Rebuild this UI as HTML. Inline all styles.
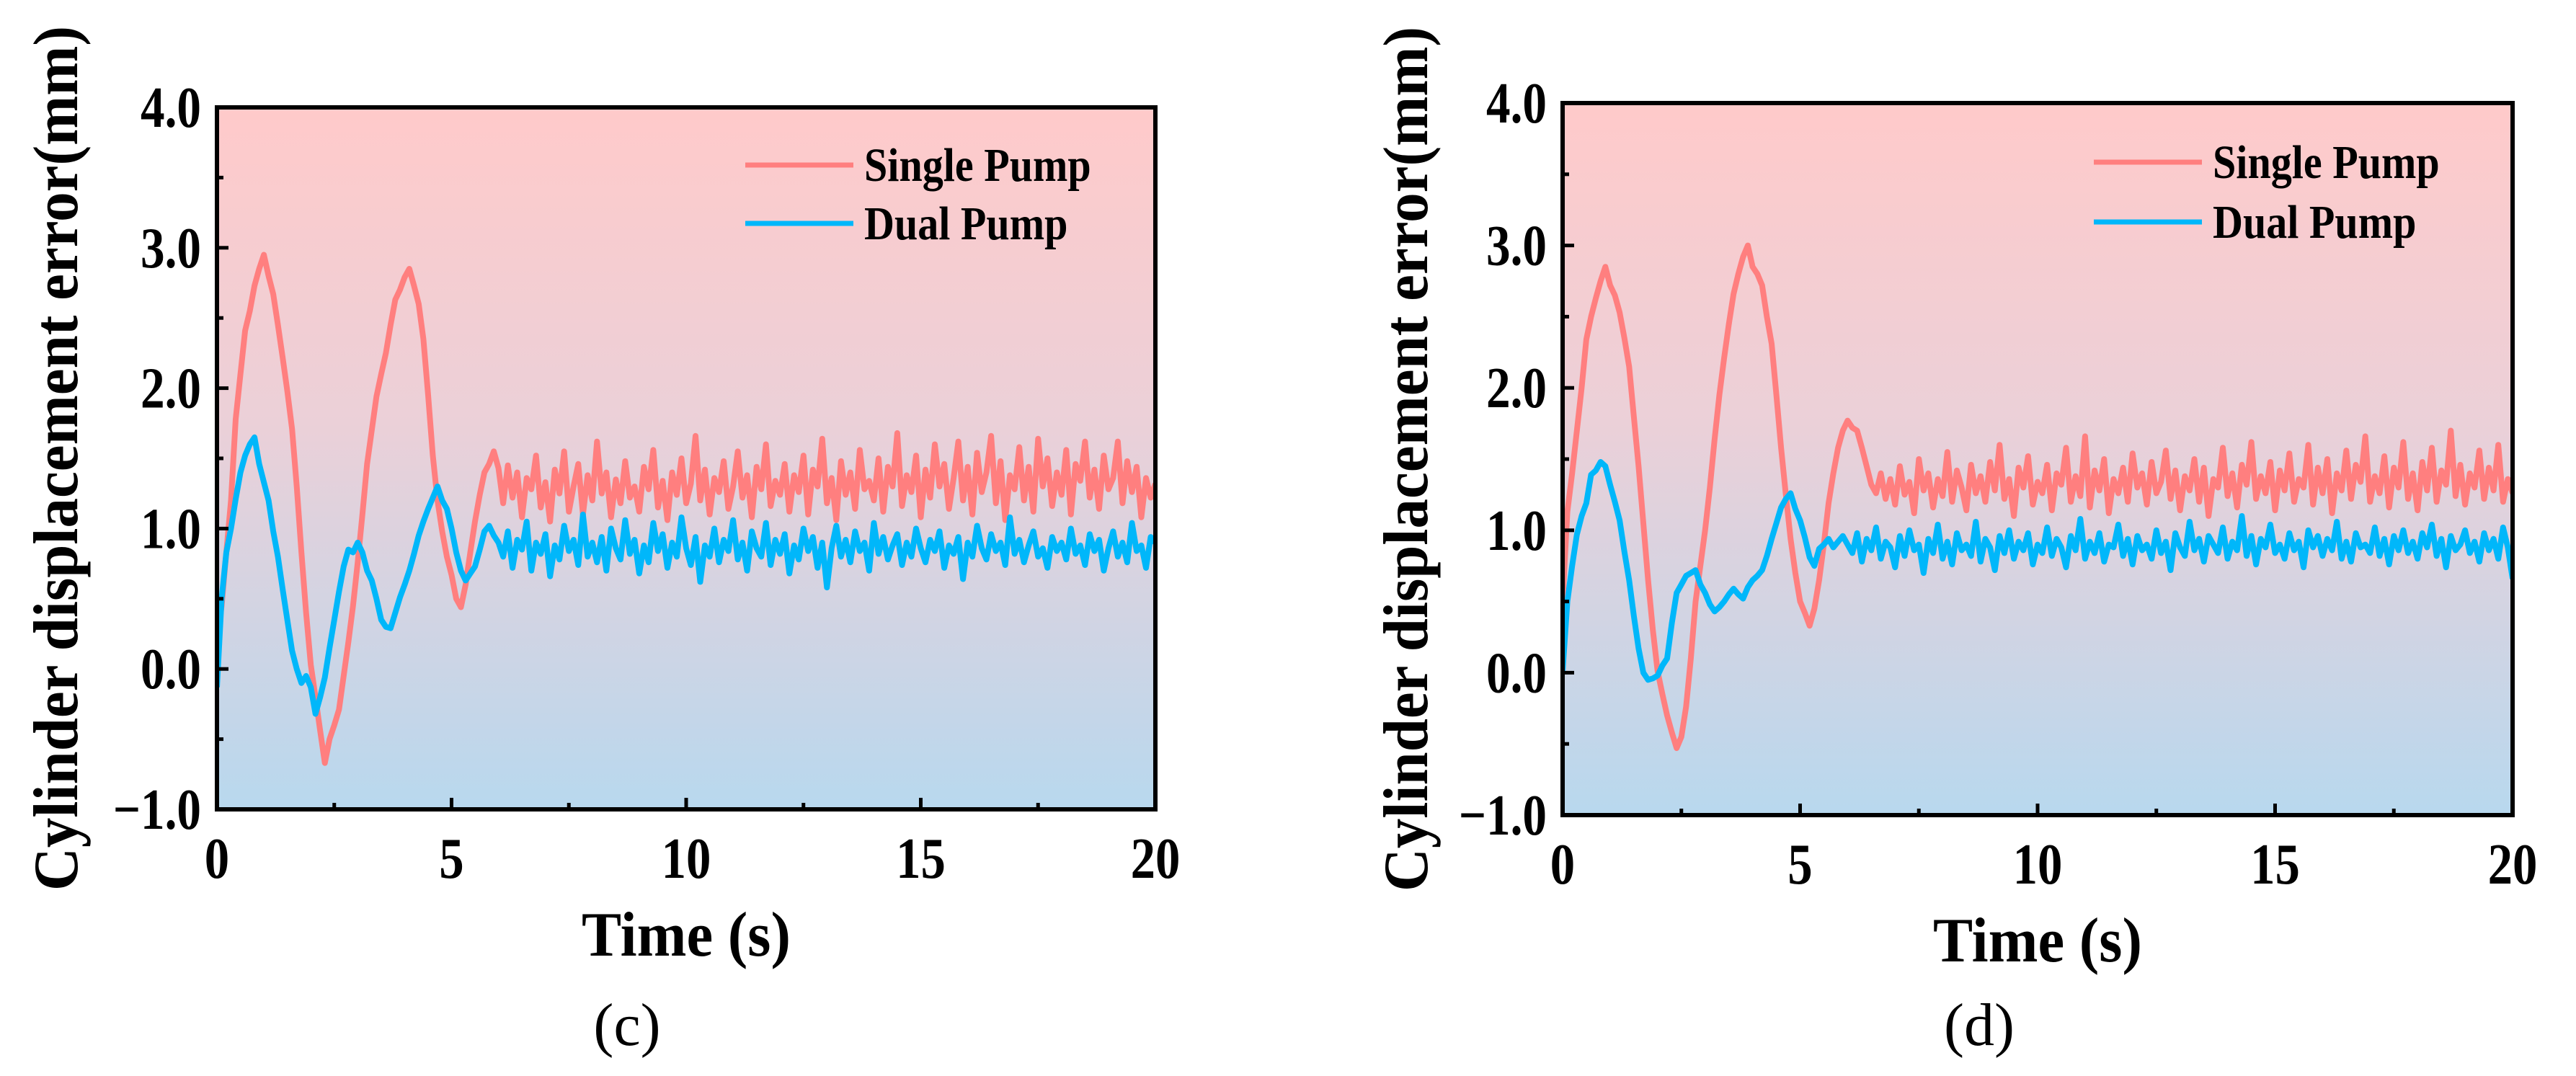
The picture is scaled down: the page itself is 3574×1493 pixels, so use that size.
<!DOCTYPE html>
<html>
<head>
<meta charset="utf-8">
<style>
html,body{margin:0;padding:0;background:#fff;}
svg{display:block;}
text{font-family:"Liberation Serif","Times New Roman",serif;}
</style>
</head>
<body>
<svg id="fig" width="3574" height="1493" viewBox="0 0 3574 1493" xmlns="http://www.w3.org/2000/svg">
<defs>
<linearGradient id="bg" x1="0" y1="0" x2="0" y2="1">
<stop offset="0" stop-color="#FFCACA"/>
<stop offset="0.45" stop-color="#EBD0D8"/>
<stop offset="1" stop-color="#B8D8EE"/>
</linearGradient>
</defs>
</svg>
<script>
// ---- data (time step 0.1 s, t = 0..20) ----
const xTicks = [0, 5, 10, 15, 20];
const yTicks = [-1.0, 0.0, 1.0, 2.0, 3.0, 4.0];
const yTickLabels = ["\u22121.0", "0.0", "1.0", "2.0", "3.0", "4.0"];
const seriesNames = ["Single Pump", "Dual Pump"];
const timeStep = 0.1;

const singleC = [0.19,0.45,0.83,1.2,1.78,2.1,2.41,2.55,2.73,2.85,2.95,
2.8,2.67,2.45,2.22,1.98,1.71,1.3,0.83,0.4,0.03,
-0.2,-0.44,-0.67,-0.5,-0.4,-0.29,-0.05,0.19,0.45,0.76,
1.1,1.46,1.7,1.94,2.1,2.25,2.45,2.63,2.7,2.79,
2.85,2.73,2.6,2.35,1.95,1.52,1.2,0.98,0.8,0.67,
0.5,0.44,0.6,0.83,1.05,1.24,1.4,1.46,1.55,1.43,
1.18,1.45,1.22,1.40,1.08,1.36,1.28,1.52,1.15,1.33,
1.05,1.42,1.25,1.55,1.12,1.30,1.46,1.10,1.38,1.20,
1.62,1.25,1.40,1.08,1.35,1.18,1.48,1.22,1.30,1.12,
1.44,1.28,1.56,1.15,1.34,1.06,1.40,1.24,1.50,1.18,
1.32,1.66,1.20,1.42,1.10,1.36,1.26,1.48,1.14,1.30,
1.55,1.22,1.38,1.08,1.44,1.28,1.60,1.16,1.34,1.24,
1.46,1.12,1.38,1.26,1.52,1.10,1.42,1.30,1.64,1.18,
1.36,1.06,1.48,1.24,1.40,1.14,1.56,1.28,1.34,1.20,
1.50,1.12,1.44,1.30,1.68,1.16,1.38,1.26,1.52,1.08,
1.42,1.22,1.60,1.30,1.46,1.14,1.36,1.62,1.20,1.44,
1.10,1.54,1.26,1.40,1.66,1.18,1.48,1.06,1.38,1.28,
1.58,1.20,1.44,1.12,1.64,1.30,1.50,1.16,1.40,1.24,
1.56,1.10,1.46,1.34,1.62,1.22,1.42,1.14,1.52,1.28,
1.36,1.62,1.18,1.48,1.26,1.44,1.08,1.36,1.22,1.32];

const dualC = [-0.13,0.5,0.83,1.0,1.21,1.4,1.52,1.6,1.65,1.46,1.33,
1.2,0.98,0.8,0.57,0.35,0.13,0.0,-0.1,-0.05,-0.13,
-0.32,-0.2,-0.06,0.15,0.35,0.55,0.73,0.85,0.83,0.9,
0.83,0.7,0.63,0.5,0.35,0.3,0.29,0.4,0.51,0.6,
0.7,0.82,0.95,1.05,1.14,1.22,1.3,1.2,1.14,1.0,
0.83,0.7,0.63,0.68,0.73,0.85,0.98,1.02,0.95,0.9,
0.80,0.98,0.72,0.92,0.85,1.05,0.70,0.90,0.82,0.96,
0.66,0.88,0.78,1.02,0.84,0.92,0.74,1.10,0.80,0.90,
0.76,0.94,0.70,1.00,0.86,0.78,1.06,0.82,0.92,0.68,
0.88,0.76,1.04,0.84,0.96,0.72,0.90,0.80,1.08,0.86,
0.74,0.94,0.62,0.88,0.80,1.00,0.76,0.92,0.84,1.06,
0.78,0.90,0.70,0.98,0.86,0.80,1.04,0.74,0.92,0.82,
0.96,0.68,0.88,0.78,1.00,0.84,0.94,0.72,0.90,0.58,
0.86,1.02,0.80,0.92,0.76,0.98,0.84,0.90,0.70,1.04,
0.82,0.94,0.78,0.88,0.96,0.74,0.90,0.80,1.00,0.86,
0.76,0.92,0.84,0.98,0.72,0.88,0.82,0.94,0.64,0.90,
0.80,1.02,0.86,0.78,0.96,0.84,0.90,0.74,1.08,0.82,
0.92,0.76,0.88,0.98,0.80,0.86,0.72,0.94,0.84,0.90,
0.78,1.00,0.82,0.88,0.74,0.96,0.84,0.92,0.70,0.86,
0.98,0.80,0.90,0.76,1.04,0.84,0.88,0.72,0.94,0.90];

const singleD = [0.5,1.13,1.4,1.7,2.0,2.34,2.5,2.63,2.75,2.85,2.72,
2.65,2.53,2.35,2.15,1.8,1.45,1.05,0.65,0.3,0.01,
-0.15,-0.3,-0.42,-0.53,-0.45,-0.24,0.1,0.5,0.75,1.0,
1.3,1.64,1.95,2.21,2.45,2.66,2.8,2.92,3.0,2.85,
2.8,2.72,2.5,2.31,1.95,1.58,1.25,0.94,0.7,0.5,
0.42,0.33,0.45,0.65,0.9,1.19,1.4,1.58,1.7,1.77,
1.72,1.70,1.58,1.45,1.32,1.26,1.40,1.22,1.36,1.18,
1.45,1.25,1.34,1.12,1.50,1.28,1.40,1.16,1.36,1.24,
1.55,1.20,1.42,1.30,1.14,1.46,1.26,1.38,1.20,1.48,
1.28,1.60,1.22,1.36,1.10,1.44,1.30,1.52,1.18,1.34,
1.26,1.46,1.14,1.40,1.32,1.58,1.20,1.38,1.24,1.66,
1.16,1.42,1.28,1.50,1.12,1.36,1.26,1.44,1.20,1.54,
1.30,1.40,1.18,1.48,1.26,1.34,1.56,1.22,1.42,1.14,
1.38,1.28,1.50,1.20,1.44,1.10,1.36,1.30,1.58,1.24,
1.40,1.16,1.46,1.32,1.62,1.22,1.38,1.26,1.48,1.14,
1.42,1.28,1.54,1.20,1.36,1.30,1.60,1.18,1.44,1.26,
1.50,1.12,1.40,1.28,1.56,1.22,1.46,1.34,1.66,1.20,
1.38,1.26,1.52,1.16,1.44,1.30,1.62,1.22,1.40,1.14,
1.48,1.28,1.58,1.20,1.42,1.32,1.70,1.24,1.46,1.18,
1.40,1.30,1.56,1.22,1.44,1.28,1.60,1.20,1.36,1.26];

const dualD = [0.01,0.5,0.75,0.97,1.1,1.19,1.39,1.42,1.48,1.45,1.32,
1.2,1.07,0.85,0.65,0.4,0.17,0.0,-0.05,-0.04,-0.02,
0.05,0.1,0.35,0.56,0.62,0.68,0.7,0.72,0.62,0.56,
0.48,0.43,0.46,0.5,0.55,0.59,0.55,0.52,0.6,0.65,
0.68,0.72,0.82,0.94,1.05,1.16,1.22,1.26,1.15,1.07,
0.95,0.81,0.75,0.87,0.9,0.94,0.88,0.92,0.96,0.9,
0.84,0.98,0.78,0.94,0.86,1.02,0.80,0.92,0.88,0.74,
0.96,0.82,1.00,0.86,0.90,0.70,0.94,0.84,1.04,0.80,
0.92,0.76,0.98,0.86,0.90,0.82,1.06,0.78,0.94,0.88,
0.72,0.96,0.84,1.00,0.80,0.92,0.86,0.98,0.76,0.90,
0.84,1.02,0.82,0.94,0.88,0.74,0.96,0.86,1.08,0.80,
0.92,0.84,0.98,0.78,0.90,0.88,1.04,0.82,0.94,0.76,
0.96,0.86,0.90,0.80,1.00,0.84,0.92,0.72,0.98,0.88,
0.82,1.06,0.86,0.94,0.78,0.96,0.90,0.84,1.02,0.80,
0.92,0.86,1.10,0.82,0.96,0.76,0.94,0.88,1.04,0.84,
0.90,0.80,0.98,0.86,0.92,0.74,1.00,0.88,0.96,0.82,
0.94,0.86,1.06,0.80,0.92,0.78,0.98,0.88,0.90,0.84,
1.02,0.82,0.94,0.76,0.96,0.86,1.00,0.84,0.92,0.80,
0.98,0.88,1.04,0.82,0.94,0.74,0.96,0.86,0.90,1.00,
0.84,0.92,0.78,0.98,0.86,0.94,0.80,1.02,0.88,0.66];

const NS = "http://www.w3.org/2000/svg";
const svg = document.getElementById("fig");
function mk(tag, attrs, parent) {
  const e = document.createElementNS(NS, tag);
  for (const k in attrs) e.setAttribute(k, attrs[k]);
  (parent || svg).appendChild(e);
  return e;
}
function squeeze(t, f) {
  const len = t.getComputedTextLength();
  t.setAttribute("textLength", (len * f).toFixed(1));
  t.setAttribute("lengthAdjust", "spacingAndGlyphs");
}

function drawPanel(cfg) {
  const g = mk("g", {});
  
  
  const L = cfg.L, R = cfg.R, T = cfg.T, B = cfg.B;
  const xs = v => L + (v - 0) / 20 * (R - L);
  const ys = v => B - (v + 1) / 5 * (B - T);

  const bg = mk("rect", {x: L, y: T, width: R - L, height: B - T, fill: "url(#bg)"}, g);
  
  

  const clipId = "clip-" + cfg.name;
  const cp = mk("clipPath", {id: clipId}, g);
  mk("rect", {x: L, y: T, width: R - L, height: B - T}, cp);

  const series = [[cfg.single, "#FF7F7F", "single-pump-line"], [cfg.dual, "#00B7FA", "dual-pump-line"]];
  series.forEach(s => {
    const pts = s[0].map((v, i) => xs(i * timeStep).toFixed(1) + "," + ys(v).toFixed(1)).join(" ");
    const pl = mk("polyline", {points: pts, fill: "none", stroke: s[1], "stroke-width": 8, "stroke-linejoin": "round", "clip-path": "url(#" + clipId + ")"}, g);
    
    
  });

  xTicks.forEach((v, i) => {
    const x = xs(v);
    const tk = mk("line", {x1: x, x2: x, y1: B, y2: B - 16, stroke: "#000", "stroke-width": 5}, g);
    
    
    if (i < xTicks.length - 1) {
      const xm = xs(v + 2.5);
      const mt = mk("line", {x1: xm, x2: xm, y1: B, y2: B - 9, stroke: "#000", "stroke-width": 5}, g);
      
      
    }
    const t = mk("text", {x: x, y: B + 95, "text-anchor": "middle", "font-size": 80, "font-weight": "bold"}, g);
    t.textContent = String(v);
    
    
    squeeze(t, 0.86);
  });
  yTicks.forEach((v, i) => {
    const y = ys(v);
    const tk = mk("line", {x1: L, x2: L + 16, y1: y, y2: y, stroke: "#000", "stroke-width": 5}, g);
    
    
    if (i < yTicks.length - 1) {
      const ym = ys(v + 0.5);
      const mt = mk("line", {x1: L, x2: L + 9, y1: ym, y2: ym, stroke: "#000", "stroke-width": 5}, g);
      
      
    }
    const t = mk("text", {x: L - 22, y: y + 27, "text-anchor": "end", "font-size": 80, "font-weight": "bold"}, g);
    t.textContent = yTickLabels[i];
    
    
    squeeze(t, 0.84);
  });

  const fr = mk("rect", {x: L, y: T, width: R - L, height: B - T, fill: "none", stroke: "#000", "stroke-width": 6}, g);
  
  

  const lg = mk("g", {}, g);
  
  
  [["#FF7F7F", cfg.legY[0], seriesNames[0]], ["#00B7FA", cfg.legY[1], seriesNames[1]]].forEach((e, i) => {
    const ln = mk("line", {x1: cfg.legX, x2: cfg.legX + 150, y1: e[1], y2: e[1], stroke: e[0], "stroke-width": 7}, lg);
    
    
    const t = mk("text", {x: cfg.legX + 165, y: e[1] + 22, "font-size": 66, "font-weight": "bold"}, lg);
    t.textContent = e[2];
    
    
    squeeze(t, 0.88);
  });

  const xt = mk("text", {x: (L + R) / 2, y: B + 203, "text-anchor": "middle", "font-size": 88, "font-weight": "bold"}, g);
  xt.textContent = "Time (s)";
  
  
  xt.setAttribute("textLength", "290");
  xt.setAttribute("lengthAdjust", "spacingAndGlyphs");

  const yt = mk("text", {x: 0, y: 0, "text-anchor": "middle", "font-size": 88, "font-weight": "bold", transform: "translate(" + (cfg.ytX + 30) + "," + ((T + B) / 2) + ") rotate(-90)"}, g);
  yt.textContent = "Cylinder displacement error(mm)";
  
  
  yt.setAttribute("textLength", "1200");
  yt.setAttribute("lengthAdjust", "spacingAndGlyphs");

  const cap = mk("text", {x: cfg.capX, y: 1450, "text-anchor": "middle", "font-size": 84}, g);
  cap.textContent = cfg.caption;
  
  
}

drawPanel({name: "panel-c", L: 301, R: 1603, T: 149, B: 1123, single: singleC, dual: dualC,
  legX: 1034, legY: [229, 310], ytX: 77, capX: 870, caption: "(c)"});
drawPanel({name: "panel-d", L: 2168, R: 3486, T: 143, B: 1131, single: singleD, dual: dualD,
  legX: 2905, legY: [225, 308], ytX: 1950, capX: 2746, caption: "(d)"});
</script>
</body>
</html>
